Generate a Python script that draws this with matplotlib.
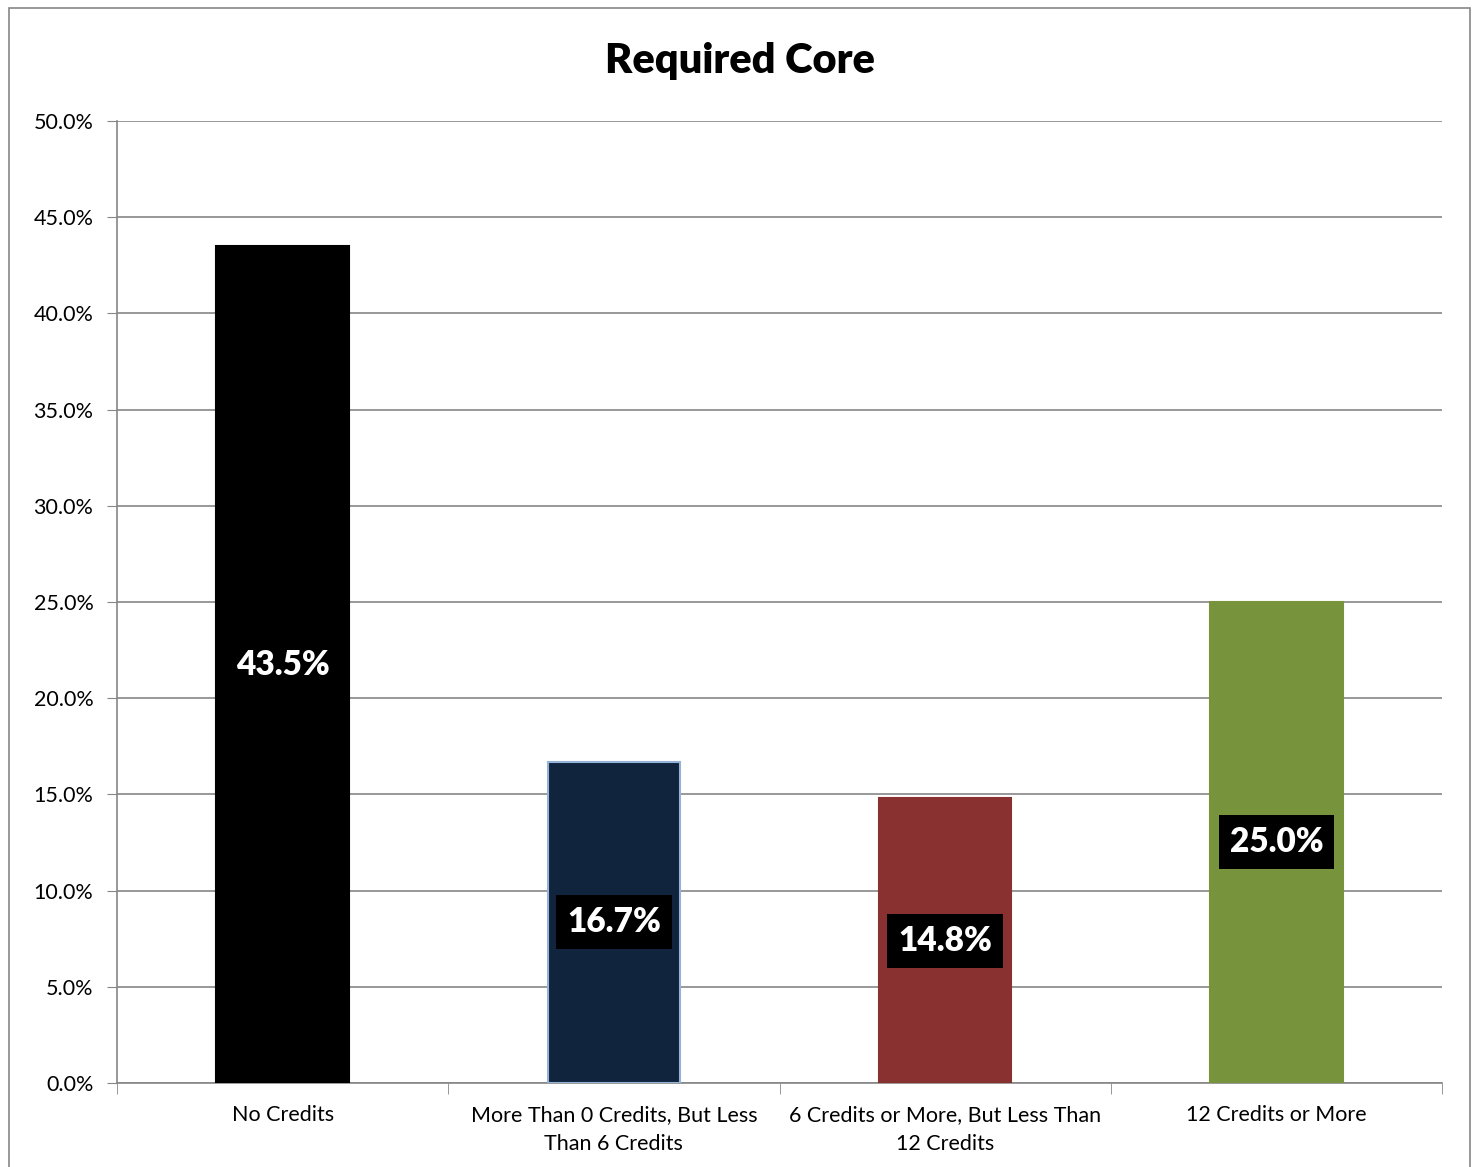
import matplotlib.pyplot as plt
from matplotlib.patches import Rectangle
from matplotlib.ticker import FuncFormatter

plt.rcParams['font.family'] = ['Lato', 'DejaVu Sans']

categories = [
    'No Credits',
    'More Than 0 Credits, But Less\nThan 6 Credits',
    '6 Credits or More, But Less Than\n12 Credits',
    '12 Credits or More'
]
values = [43.5, 16.7, 14.8, 25.0]
colors = ['#000000', '#10243e', '#893131', '#77933c']
edges = ['#000000', '#95b3d7', '#893131', '#77933c']

fig = plt.figure(figsize=(14.76, 11.67), dpi=100)
ax = fig.add_axes([0.0793, 0.072, 0.8977, 0.8243])

# outer chart border
fig.patches.append(Rectangle((9 / 1476, -0.01), 1461 / 1476, 1 - 8 / 1167 + 0.01,
                             transform=fig.transFigure, fill=False,
                             edgecolor='#868686', linewidth=1.2))

x = range(len(values))
ax.bar(x, values, width=0.4, color=colors, edgecolor=edges, linewidth=1.5, zorder=3)

for i, v in enumerate(values):
    ax.text(i, v / 2, f'{v:.1f}%', ha='center', va='center', color='white',
            fontsize=24, fontweight='heavy', zorder=4,
            bbox=dict(facecolor='black', edgecolor='none', pad=8))

ax.set_xlim(-0.5, 3.5)
ax.set_ylim(0, 50)
ax.set_yticks(range(0, 51, 5))
ax.yaxis.set_major_formatter(FuncFormatter(lambda v, p: f'{v:.1f}%'))
ax.set_xticks(list(x))
ax.set_xticklabels(categories, fontsize=15.5, linespacing=1.55)
ax.tick_params(axis='x', length=0, pad=16)
ax.set_xticks([-0.5, 0.5, 1.5, 2.5, 3.5], minor=True)
ax.tick_params(axis='x', which='minor', length=8, color='#868686', direction='out')
ax.tick_params(axis='y', labelsize=15.5, length=7, color='#868686', pad=10)

ax.grid(axis='y', color='#868686', linewidth=1.2, zorder=0)
for s in ['top', 'right']:
    ax.spines[s].set_visible(False)
for s in ['left', 'bottom']:
    ax.spines[s].set_color('#868686')
    ax.spines[s].set_linewidth(1.2)

fig.text(0.501, 0.948, 'Required Core', ha='center', va='center',
         fontsize=30, fontweight='heavy')

fig.savefig('out.png', dpi=100)
